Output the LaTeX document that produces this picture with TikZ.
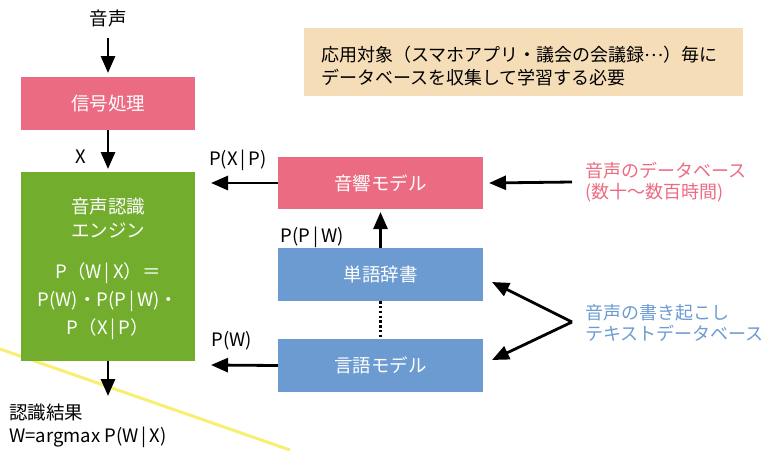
\documentclass[tikz,border=0pt]{standalone}
\usepackage{fontspec}
\setmainfont{Noto Sans CJK JP}
\usetikzlibrary{arrows.meta}
\definecolor{pinkbox}{HTML}{EB6C82}
\definecolor{greenbox}{HTML}{72AD2E}
\definecolor{bluebox}{HTML}{6B9BD1}
\definecolor{tanbox}{HTML}{F5DDB8}
\definecolor{yel}{HTML}{F8EE72}
\tikzset{
  box/.style={rectangle, inner sep=0pt, text=white, font=\fontsize{18.5}{22}\selectfont},
  lbl/.style={inner sep=0pt, font=\fontsize{18.5}{22}\selectfont},
  arr/.style={line width=2.8pt, -{Triangle[length=17pt,width=14pt]}},
}
\newcommand{\vb}{\,|\,}
\begin{document}
\begin{tikzpicture}[x=1pt,y=-1pt]
\useasboundingbox (0,0) rectangle (768,450);
\draw[yel, line width=3pt] (0,349) -- (290,450);
% boxes
\node[box, fill=pinkbox, minimum width=174pt, minimum height=53pt] (sig) at (108,103.5) {信号処理};
\node[box, fill=greenbox, minimum width=174pt, minimum height=189pt] (eng) at (108,266.5) {};
\node[box, fill=pinkbox, minimum width=205pt, minimum height=52pt] (am) at (380.5,183) {音響モデル};
\node[box, fill=bluebox, minimum width=205pt, minimum height=53pt] (dic) at (380.5,274.5) {単語辞書};
\node[box, fill=bluebox, minimum width=205pt, minimum height=53pt] (lm) at (380.5,365.5) {言語モデル};
\node[rectangle, fill=tanbox, minimum width=439pt, minimum height=68pt, inner sep=0pt] (note) at (523.5,62) {};
\node[lbl, anchor=west, align=left, font=\fontsize{18}{23}\selectfont] (notet) at (321,66) {応用対象（スマホアプリ・議会の会議録\raisebox{0.3em}{…}）毎に\\データベースを収集して学習する必要};
% engine text
\node[box] (e1) at (108,206) {音声認識};
\node[box] (e2) at (108,230) {エンジン};
\node[box] (e3) at (108,273) {P（W\vb X）＝};
\node[box] (e4) at (108,301) {P(W)・P(P\vb W)・};
\node[box] (e5) at (108,329) {P（X\vb P）};
% input / output
\node[lbl] (in) at (108,18) {音声};
\coordinate (inb) at (108,38);
\coordinate (sigT) at (108,73);
\coordinate (engT) at (108,169);
\coordinate (outb) at (108,396);
\node[lbl, anchor=west] (r1) at (9,413) {認識結果};
\node[lbl, anchor=west] (r2) at (9,437) {W=argmax P(W\vb X)};
% right texts
\node[lbl, text=pinkbox, anchor=west, align=left, font=\fontsize{18}{21}\selectfont] (db1) at (585,182) {音声のデータベース\\(数十〜数百時間)};
\node[lbl, text=bluebox, anchor=west, align=left, font=\fontsize{18}{21}\selectfont] (db2) at (585,323) {音声の書き起こし\\テキストデータベース};
\coordinate (v1) at (572,182);
\coordinate (v2) at (572,322);
% arrows
\draw[arr] (inb) -- (sigT);
\draw[arr] (sig.south) -- (engT);
\node[lbl] (xl) at (81,157) {X};
\draw[arr] (eng.south) -- (outb);
\coordinate (amL) at (211,183);
\coordinate (lmL) at (211,365);
\coordinate (amB) at (380.5,212);
\draw[arr] (am.west) -- (amL);
\draw[arr] (lm.west) -- (lmL);
\node[lbl] (pxp) at (238,160) {P(X\vb P)};
\node[lbl] (pw) at (232,341) {P(W)};
\node[lbl] (ppw) at (312,237) {P(P\vb W)};
\draw[arr] (dic.north) -- (amB);
\draw[line width=2.4pt, dash pattern=on 2.4pt off 2.4pt] (dic.south) -- (lm.north);
\draw[arr] (v1) -- (am.east -| 489,0);
\coordinate (t1) at (492,282);
\coordinate (t2) at (492,360);
\draw[arr] (v2) -- (t1);
\draw[arr] (v2) -- (t2);
\end{tikzpicture}
\end{document}
